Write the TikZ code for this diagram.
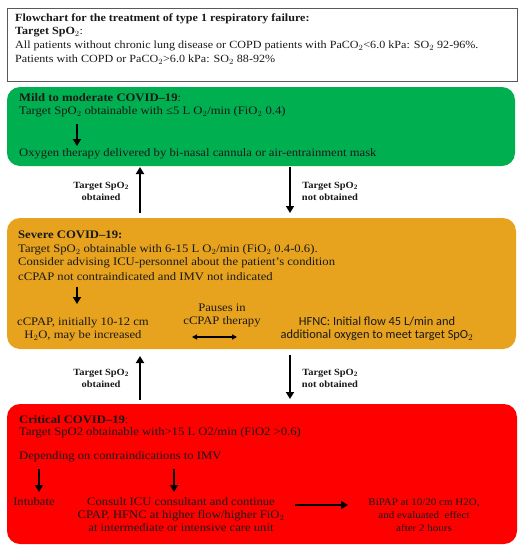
\documentclass[tikz,border=0pt]{standalone}
\usepackage{fontspec}
\setmainfont{Liberation Serif}[FakeStretch=1.1]
\newfontfamily\calib{Carlito}
\usetikzlibrary{arrows.meta}
\definecolor{boxgreen}{RGB}{0,176,80}
\definecolor{boxorange}{RGB}{231,163,30}
\definecolor{boxred}{RGB}{255,0,0}
\definecolor{txt}{RGB}{25,25,25}
\tikzset{
  panel/.style={rounded corners=13pt},
  line/.style={anchor=west, inner sep=0pt, font=\fontsize{11.5}{12}\selectfont, text=txt},
  tline/.style={anchor=west, inner sep=0pt, font=\fontsize{11}{12}\selectfont, text=txt},
  cline/.style={align=center, inner sep=0pt, font=\fontsize{11.5}{13}\selectfont, text=txt},
  lbl/.style={align=center, inner sep=0pt, font=\fontsize{9.5}{12}\selectfont\bfseries, text=txt},
  flow/.style={-{Triangle[length=7pt,width=8pt]}, line width=2.6pt},
  dbl/.style={{Triangle[length=5pt,width=5pt]}-{Triangle[length=5pt,width=5pt]}, line width=1.2pt},
}
\begin{document}
\begin{tikzpicture}[x=1pt,y=-1pt]
\useasboundingbox (0,0) rectangle (523,550);
% top box
\draw[draw=gray!70!black, line width=0.8pt] (7,8) rectangle (517,81);
\node[tline, font=\fontsize{11}{12}\selectfont\bfseries] (t1) at (15,19) {Flowchart for the treatment of type 1 respiratory failure:};
\node[tline, font=\fontsize{11}{12}\selectfont\bfseries] (t2) at (15,32.5) {Target SpO$_2$\normalfont:};
\node[tline] (t3) at (15,46) {All patients without chronic lung disease or COPD patients with PaCO$_2$<6.0 kPa: SO$_2$ 92-96\%.};
\node[tline] (t4) at (15,59.5) {Patients with COPD or PaCO$_2$>6.0 kPa: SO$_2$ 88-92\%};
% green
\fill[boxgreen, panel] (7,87) rectangle (515,166);
\node[line, font=\fontsize{11.5}{12}\selectfont\bfseries] (g1) at (19,98) {Mild to moderate COVID--19\normalfont:};
\node[line] (g2) at (19,112) {Target SpO$_2$ obtainable with ≤5 L O$_2$/min (FiO$_2$ 0.4)};
\node[line] (g3) at (19,154) {Oxygen therapy delivered by bi-nasal cannula or air-entrainment mask};
\coordinate (ga1) at (77,124);
\coordinate (ga2) at (77,146);
\draw[flow] (ga1) -- (ga2);
% arrows green-orange
\coordinate (u1a) at (140,213);
\coordinate (u1b) at (140,167);
\draw[flow] (u1a) -- (u1b);
\node[lbl] (l1) at (101,191) {Target SpO$_\mathbf{2}$\\obtained};
\coordinate (d1a) at (290,167);
\coordinate (d1b) at (290,213);
\draw[flow] (d1a) -- (d1b);
\node[lbl] (l2) at (330,191) {Target SpO$_\mathbf{2}$\\not obtained};
% orange
\fill[boxorange, panel] (7,218) rectangle (516,349);
\node[line, font=\fontsize{11.5}{12}\selectfont\bfseries] (o1) at (18,235) {Severe COVID--19:};
\node[line] (o2) at (18,250) {Target SpO$_2$ obtainable with 6-15 L O$_2$/min (FiO$_2$ 0.4-0.6).};
\node[line] (o3) at (18,263) {Consider advising ICU-personnel about the patient’s condition};
\node[line] (o4) at (18,277) {cCPAP not contraindicated and IMV not indicated};
\coordinate (oa1) at (77,287);
\coordinate (oa2) at (77,304);
\draw[flow] (oa1) -- (oa2);
\node[cline] (o5) at (83,329) {cCPAP, initially 10-12 cm\\H$_2$O, may be increased};
\node[cline] (o6) at (222,315) {Pauses in\\cCPAP therapy};
\node[cline, font=\calib\fontsize{12.4}{13}\selectfont] (o7) at (377,329) {HFNC: Initial flow 45 L/min and\\additional oxygen to meet target SpO$_2$};
\coordinate (da) at (192,337);
\coordinate (db) at (237,337);
\draw[dbl] (da) -- (db);
% arrows orange-red
\coordinate (u2a) at (140,400);
\coordinate (u2b) at (140,356);
\draw[flow] (u2a) -- (u2b);
\node[lbl] (l3) at (101,378) {Target SpO$_\mathbf{2}$\\obtained};
\coordinate (d2a) at (290,355);
\coordinate (d2b) at (290,399);
\draw[flow] (d2a) -- (d2b);
\node[lbl] (l4) at (330,378) {Target SpO$_\mathbf{2}$\\not obtained};
% red
\fill[boxred, panel] (7,404) rectangle (517,544);
\node[line, font=\fontsize{11.5}{12}\selectfont\bfseries] (r1) at (19,420) {Critical COVID--19\normalfont:};
\node[line] (r2) at (19,433) {Target SpO2 obtainable with>15 L O2/min (FiO2 >0.6)};
\node[line] (r3) at (19,457) {Depending on contraindications to IMV};
\coordinate (ra1) at (39,469);
\coordinate (ra2) at (39,492);
\draw[flow] (ra1) -- (ra2);
\coordinate (rb1) at (174,469);
\coordinate (rb2) at (174,492);
\draw[flow] (rb1) -- (rb2);
\node[cline] (r4) at (34,502) {Intubate};
\node[cline] (r5) at (181,515) {Consult ICU consultant and continue\\CPAP, HFNC at higher flow/higher FiO$_2$\\at intermediate or intensive care unit};
\node[cline, font=\fontsize{10}{13}\selectfont] (r6) at (424,515) {BiPAP at 10/20 cm H2O,\\and evaluated\ \ effect\\after 2 hours};
\coordinate (rc1) at (295,505);
\coordinate (rc2) at (348,505);
\draw[flow] (rc1) -- (rc2);
\end{tikzpicture}
\end{document}
